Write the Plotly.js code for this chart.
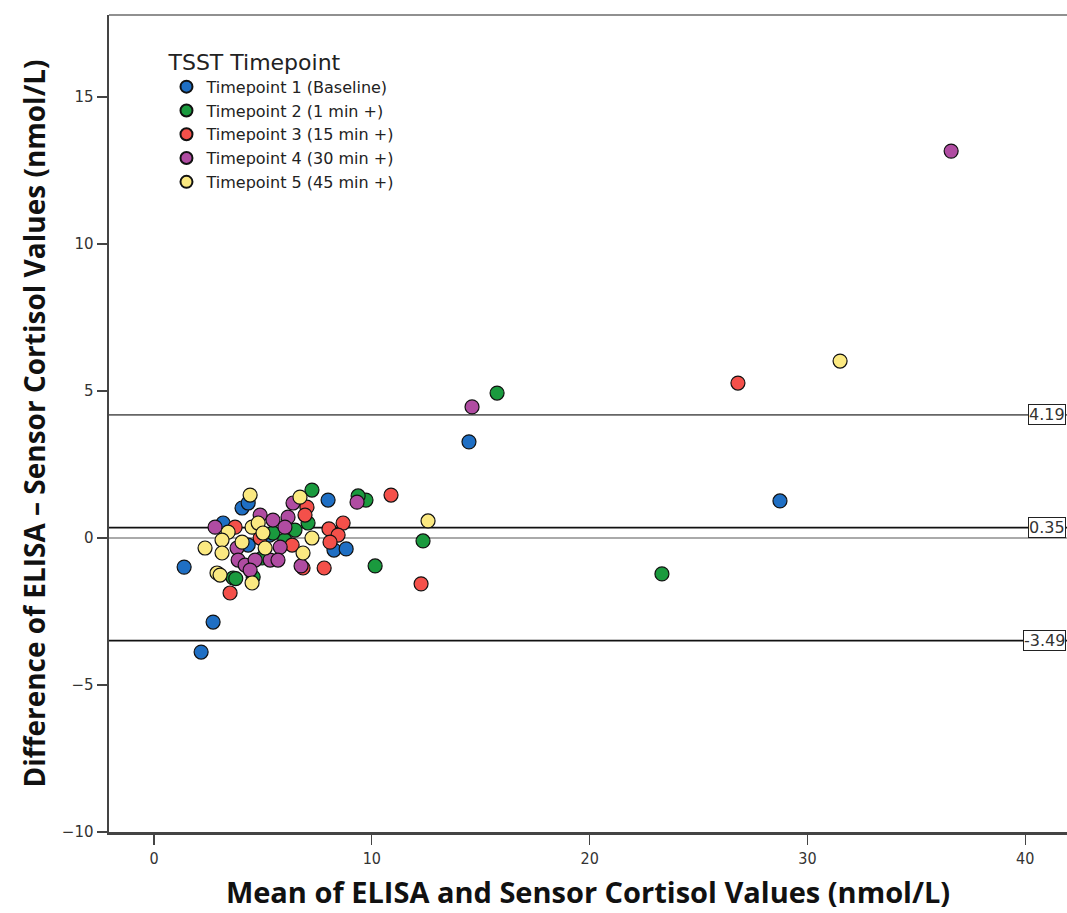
<!DOCTYPE html>
<html>
<head>
<meta charset="utf-8">
<script src="https://cdn.plot.ly/plotly-3.0.1.min.js"></script>
<style>html,body{margin:0;padding:0;background:#fff;}#chart{width:1067px;height:913px;}</style>
</head>
<body>
<div id="chart"></div>
<script>
// Series names
const seriesNames = [
  "Timepoint 1 (Baseline)",
  "Timepoint 2 (1 min +)",
  "Timepoint 3 (15 min +)",
  "Timepoint 4 (30 min +)",
  "Timepoint 5 (45 min +)"
];
const seriesColors = ["#1f6fc4", "#1a9a3e", "#f4504a", "#b04ca2", "#fbe981"];

// Timepoint 1
const t1Mean = [1.38, 2.16, 2.71, 4.04, 4.32, 3.17, 7.99, 8.26, 8.82, 14.46, 28.74, 4.32, 5.30];
const t1Diff = [-0.99, -3.88, -2.86, 1.02, 1.19, 0.51, 1.29, -0.41, -0.37, 3.27, 1.26, -0.24, 0.10];
// Timepoint 2
const t2Mean = [15.75, 23.32, 12.35, 10.15, 9.73, 9.37, 7.25, 7.07, 3.63, 4.55, 4.96, 5.46, 6.47, 6.00, 3.75];
const t2Diff = [4.93, -1.22, -0.10, -0.95, 1.29, 1.43, 1.63, 0.51, -1.36, -1.33, -0.68, 0.17, 0.27, -0.07, -1.38];
// Timepoint 3
const t3Mean = [26.81, 12.26, 10.88, 7.81, 3.49, 8.68, 8.03, 8.45, 8.08, 7.02, 6.93, 6.34, 6.84, 3.72, 4.87];
const t3Diff = [5.27, -1.56, 1.46, -1.02, -1.87, 0.51, 0.31, 0.10, -0.14, 1.05, 0.78, -0.24, -1.02, 0.37, 0.00];
// Timepoint 4
const t4Mean = [36.60, 14.60, 9.32, 6.38, 4.87, 5.46, 6.15, 2.80, 6.01, 3.81, 5.79, 3.86, 4.18, 4.64, 5.33, 5.69, 6.75, 4.41];
const t4Diff = [13.16, 4.46, 1.22, 1.19, 0.78, 0.61, 0.71, 0.37, 0.37, -0.34, -0.31, -0.75, -0.92, -0.75, -0.75, -0.75, -0.95, -1.09];
// Timepoint 5
const t5Mean = [31.50, 12.58, 4.41, 6.70, 4.50, 4.78, 5.00, 3.40, 3.12, 4.04, 2.34, 5.10, 3.12, 6.84, 7.25, 2.89, 3.03, 4.50];
const t5Diff = [6.02, 0.58, 1.46, 1.39, 0.37, 0.51, 0.17, 0.20, -0.07, -0.14, -0.34, -0.34, -0.51, -0.51, 0.00, -1.19, -1.26, -1.53];

// Limits of agreement (upper, mean bias, lower)
const refValues = [4.19, 0.35, -3.49];
const refColors = ["#666666", "#111111", "#111111"];

const xs = [t1Mean, t2Mean, t3Mean, t4Mean, t5Mean];
const ys = [t1Diff, t2Diff, t3Diff, t4Diff, t5Diff];

const traces = seriesNames.map((n, i) => ({
  type: "scatter", mode: "markers", name: n,
  x: xs[i], y: ys[i],
  marker: {color: seriesColors[i], size: 14, line: {color: "#111", width: 1.2}},
  cliponaxis: true
}));

const shapes = refValues.map((v, i) => ({
  type: "line", xref: "paper", x0: 0, x1: 1, yref: "y", y0: v, y1: v,
  line: {color: refColors[i], width: 1.8}, layer: "below"
}));
shapes.push({type: "line", xref: "paper", yref: "paper", x0: 0, x1: 1, y0: 1, y1: 1, line: {color: "#222", width: 1.2}});

const annotations = refValues.map(v => ({
  xref: "paper", x: 0.999, xanchor: "right", yref: "y", y: v, yanchor: "middle",
  text: v.toFixed(2), showarrow: false,
  font: {family: "DejaVu Sans", size: 16, color: "#333"},
  bgcolor: "#fff", bordercolor: "#222", borderwidth: 1, borderpad: 0
}));

const layout = {
  width: 1067, height: 913,
  margin: {l: 109, r: 0, t: 15, b: 81},
  paper_bgcolor: "#fff", plot_bgcolor: "#fff",
  showlegend: true,
  legend: {
    x: 0.06, y: 0.968, xanchor: "left", yanchor: "top",
    title: {text: "TSST Timepoint", font: {family: "DejaVu Sans", size: 22, color: "#222"}, side: "top"},
    font: {family: "DejaVu Sans", size: 16, color: "#222"},
    itemsizing: "constant", tracegroupgap: 0, bgcolor: "rgba(0,0,0,0)", itemwidth: 30
  },
  xaxis: {
    range: [-2.07, 41.92], tickvals: [0, 10, 20, 30, 40], ticks: "outside", ticklen: 10, tickwidth: 1.2, tickcolor: "#444",
    showgrid: false, zeroline: false, showline: true, linecolor: "#444", linewidth: 2.5,
    tickfont: {family: "DejaVu Sans Condensed, DejaVu Sans", size: 16, color: "#333"},
    title: {text: "Mean of ELISA and Sensor Cortisol Values (nmol/L)", font: {family: "Open Sans", size: 29, color: "#111", weight: "bold"}, standoff: 16}
  },
  yaxis: {
    range: [-10, 17.79], tickvals: [-10, -5, 0, 5, 10, 15], ticks: "outside", ticklen: 10, tickwidth: 1.2, tickcolor: "#444",
    showgrid: false, zeroline: true, zerolinecolor: "#aaaaaa", zerolinewidth: 2, showline: true, linecolor: "#444", linewidth: 2.5,
    tickfont: {family: "DejaVu Sans", size: 15, color: "#333"},
    title: {text: "Difference of ELISA \u2013 Sensor Cortisol Values (nmol/L)", font: {family: "Open Sans", size: 28, color: "#111", weight: "bold"}, standoff: 8}
  },
  shapes: shapes,
  annotations: annotations
};

Plotly.newPlot("chart", traces, layout, {displayModeBar: false, staticPlot: true});
</script>
</body>
</html>
